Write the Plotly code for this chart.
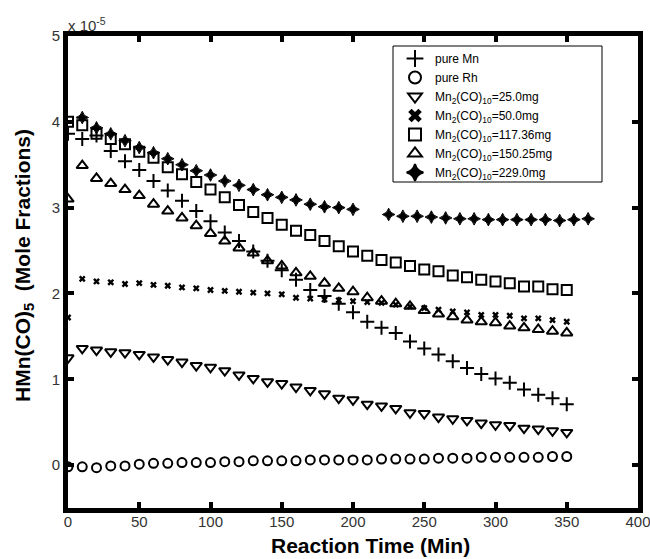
import plotly.graph_objects as go

# Reaction time (min)
t_main = [10, 20, 30, 40, 50, 60, 70, 80, 90, 100, 110, 120, 130, 140, 150, 160, 170, 180,
          190, 200, 210, 220, 230, 240, 250, 260, 270, 280, 290, 300, 310, 320, 330, 340, 350]
t0 = [0]

# HMn(CO)5 mole fraction (x 1e-5)
pure_mn = [3.86, 3.80, 3.84, 3.66, 3.54, 3.44, 3.31, 3.20, 3.08, 2.96, 2.84, 2.71, 2.61, 2.49,
           2.38, 2.27, 2.16, 2.04, 1.97, 1.88, 1.78, 1.67, 1.60, 1.54, 1.44, 1.36, 1.29, 1.21,
           1.13, 1.06, 1.01, 0.96, 0.88, 0.82, 0.78, 0.71]
pure_rh = [-0.02, -0.02, -0.03, -0.01, -0.01, 0.01, 0.02, 0.02, 0.03, 0.03, 0.03, 0.04, 0.04,
           0.05, 0.05, 0.05, 0.05, 0.06, 0.06, 0.06, 0.06, 0.06, 0.07, 0.07, 0.07, 0.07, 0.08,
           0.08, 0.08, 0.09, 0.09, 0.09, 0.09, 0.09, 0.10, 0.10]
mn_25 = [1.25, 1.36, 1.34, 1.32, 1.31, 1.29, 1.26, 1.23, 1.20, 1.16, 1.14, 1.10, 1.05, 1.01,
         0.97, 0.95, 0.91, 0.87, 0.83, 0.78, 0.76, 0.71, 0.69, 0.66, 0.61, 0.60, 0.56, 0.54,
         0.52, 0.49, 0.47, 0.46, 0.43, 0.42, 0.40, 0.38]
mn_50 = [1.72, 2.17, 2.14, 2.13, 2.11, 2.12, 2.10, 2.09, 2.07, 2.06, 2.04, 2.03, 2.02, 2.01,
         2.00, 1.99, 1.95, 1.94, 1.93, 1.92, 1.91, 1.90, 1.89, 1.87, 1.85, 1.83, 1.81, 1.79,
         1.78, 1.75, 1.75, 1.74, 1.71, 1.71, 1.69, 1.67]
mn_117 = [4.00, 3.96, 3.86, 3.80, 3.74, 3.65, 3.58, 3.47, 3.39, 3.30, 3.21, 3.12, 3.03, 2.95,
          2.88, 2.80, 2.73, 2.68, 2.61, 2.55, 2.49, 2.44, 2.39, 2.36, 2.32, 2.28, 2.26, 2.21,
          2.19, 2.16, 2.14, 2.12, 2.08, 2.08, 2.05, 2.04]
mn_150 = [3.10, 3.49, 3.34, 3.28, 3.21, 3.14, 3.04, 2.96, 2.88, 2.79, 2.70, 2.61, 2.53, 2.47,
          2.38, 2.32, 2.24, 2.20, 2.12, 2.06, 2.02, 1.95, 1.91, 1.88, 1.85, 1.80, 1.76, 1.73,
          1.69, 1.67, 1.66, 1.62, 1.60, 1.58, 1.56, 1.54]
t_229 = [10, 20, 30, 40, 50, 60, 70, 80, 90, 100, 110, 120, 130, 140, 150, 160, 170, 180, 190,
         200, 225, 235, 245, 255, 265, 275, 285, 295, 305, 315, 325, 335, 345, 355, 365]
mn_229 = [4.05, 3.93, 3.86, 3.78, 3.70, 3.64, 3.57, 3.50, 3.43, 3.38, 3.31, 3.26, 3.21, 3.15,
          3.12, 3.09, 3.04, 3.01, 3.00, 2.98, 2.92, 2.90, 2.90, 2.89, 2.88, 2.87, 2.87, 2.86,
          2.86, 2.86, 2.86, 2.86, 2.85, 2.86, 2.87]

x_ticks = [0, 50, 100, 150, 200, 250, 300, 350, 400]
y_ticks = [0, 1, 2, 3, 4, 5]

series = [
    ("pure Mn", t0 + t_main, pure_mn, "cross-thin-open", 10, 2),
    ("pure Rh", t0 + t_main, pure_rh, "circle-open", 9, 2),
    ("Mn<sub>2</sub>(CO)<sub>10</sub>=25.0mg", t0 + t_main, mn_25, "triangle-down-open", 10, 2),
    ("Mn<sub>2</sub>(CO)<sub>10</sub>=50.0mg", t0 + t_main, mn_50, "x", 6, 0),
    ("Mn<sub>2</sub>(CO)<sub>10</sub>=117.36mg", t0 + t_main, mn_117, "square-open", 10, 2),
    ("Mn<sub>2</sub>(CO)<sub>10</sub>=150.25mg", t0 + t_main, mn_150, "triangle-up-open", 10, 2),
    ("Mn<sub>2</sub>(CO)<sub>10</sub>=229.0mg", t_229, mn_229, "star-diamond", 9, 1),
]

W, H = 650, 559
L, R, T, B = 68, 12, 36, 51
pw, ph = W - L - R, H - T - B

def px_x(p):
    return (p - L) / pw

def px_y(p):
    return (H - B - p) / ph

fig = go.Figure()
for name, xs, ys, sym, size, lw in series:
    fig.add_trace(go.Scatter(
        x=xs, y=ys, mode="markers", name=name,
        marker=dict(symbol=sym, size=size, color="black",
                    line=dict(color="black", width=lw)),
    ))

FONT = "Liberation Sans, Arial, sans-serif"
axis_common = dict(
    showline=True, linecolor="black", linewidth=5, mirror="ticks",
    ticks="inside", ticklen=6, tickwidth=4, tickcolor="black",
    showgrid=False, zeroline=False, automargin=False, ticklabeloverflow="allow",
    tickfont=dict(family=FONT, size=15, color="#333"),
)

font_b = dict(family=FONT, size=21, color="black", weight="bold")

fig.update_layout(
    width=W, height=H, autosize=False,
    margin=dict(l=L, r=R, t=T, b=B),
    paper_bgcolor="white", plot_bgcolor="white",
    xaxis=dict(range=[0, 400], tickvals=x_ticks, ticklabelstandoff=-4, **axis_common),
    yaxis=dict(range=[-0.5, 5], tickvals=y_ticks, **axis_common),
    legend=dict(
        x=px_x(395), y=px_y(44), xanchor="left", yanchor="top",
        bgcolor="rgba(0,0,0,0)", borderwidth=0,
        font=dict(family=FONT, size=12, color="black"),
        tracegroupgap=0, itemsizing="constant",
    ),
    shapes=[dict(type="rect", xref="paper", yref="paper",
                 x0=px_x(393), x1=px_x(602), y0=px_y(182), y1=px_y(46),
                 line=dict(color="black", width=1), fillcolor="white", layer="below")],
    showlegend=True,
    annotations=[
        dict(text="Reaction Time (Min)", xref="paper", yref="paper", x=px_x(370), y=px_y(545),
             xanchor="center", yanchor="middle", showarrow=False, font=font_b),
        dict(text="HMn(CO)<sub>5</sub>&nbsp;&nbsp;(Mole Fractions)", xref="paper", yref="paper",
             x=px_x(24), y=px_y(266), textangle=-90, xanchor="center", yanchor="middle",
             showarrow=False, font=font_b),
        dict(text="x 10<sup>-5</sup>", xref="paper", yref="paper", x=px_x(66), y=px_y(24),
             xanchor="left", yanchor="middle", showarrow=False,
             font=dict(family=FONT, size=15, color="#333")),
    ],
)

post = (
    "document.documentElement.style.margin='0';"
    "document.body.style.margin='0';"
    "document.documentElement.style.overflow='hidden';"
    "document.body.style.overflow='hidden';"
)

fig.write_html("out.html", config={"displayModeBar": False}, post_script=post)
